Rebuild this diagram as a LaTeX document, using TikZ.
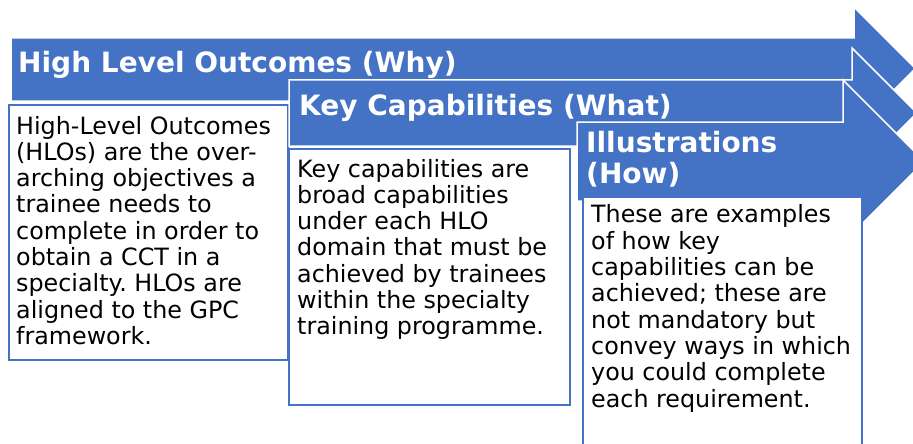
\documentclass[tikz,border=0pt]{standalone}
\usepackage{fontspec}
\setmainfont{DejaVu Sans}
\frenchspacing
\definecolor{ablue}{HTML}{4472C4}
\tikzset{
  arrowshape/.style={fill=ablue, draw=white, line width=1.5pt, line join=miter},
  boxshape/.style={fill=white, draw=ablue, line width=2.6pt},
  titletext/.style={text=white, font=\bfseries\fontsize{28}{31}\selectfont, anchor=base west, inner sep=0pt, align=left},
  bodytext/.style={text=black, font=\frenchspacing\fontsize{23.8}{26.3}\selectfont, anchor=base west, inner sep=0pt, align=left},
}
\begin{document}
\begin{tikzpicture}[x=1pt,y=-1pt]
\useasboundingbox (0,0) rectangle (913,444);
\begin{scope}
\clip (0,0) rectangle (913,444);
% arrow 1
\draw[arrowshape] (11,38) -- (854,38) -- (854,7) -- (915.5,68.5) -- (854,130) -- (854,101) -- (11,101) -- cycle;
\draw[boxshape] (9,105) rectangle (288,360);
\node[titletext] (t1) at (18,73) {High Level Outcomes (Why)};
\node[bodytext] (b1) at (16,344.4) {High-Level Outcomes\\(HLOs) are the over-\\arching objectives a\\trainee needs to\\complete in order to\\obtain a CCT in a\\specialty. HLOs are\\aligned to the GPC\\framework.};
% arrow 2
\draw[arrowshape] (289,80) -- (852,80) -- (852,48) -- (917,113) -- (852,178) -- (852,146) -- (289,146) -- cycle;
\draw[boxshape] (289,149) rectangle (570,405);
\node[titletext] (t2) at (299,115) {Key Capabilities (What)};
\node[bodytext] (b2) at (297,334.8) {Key capabilities are\\broad capabilities\\under each HLO\\domain that must be\\achieved by trainees\\within the specialty\\training programme.};
% arrow 3
\draw[arrowshape] (577,122) -- (843,122) -- (843,80) -- (924.5,161.5) -- (843,243) -- (843,201) -- (577,201) -- cycle;
\draw[boxshape] (583,197) rectangle (862,460);
\node[titletext] (t3) at (586,183) {Illustrations\\(How)};
\node[bodytext] (b3) at (591,407) {These are examples\\of how key\\capabilities can be\\achieved; these are\\not mandatory but\\convey ways in which\\you could complete\\each requirement.};
\end{scope}
\end{tikzpicture}
\end{document}
